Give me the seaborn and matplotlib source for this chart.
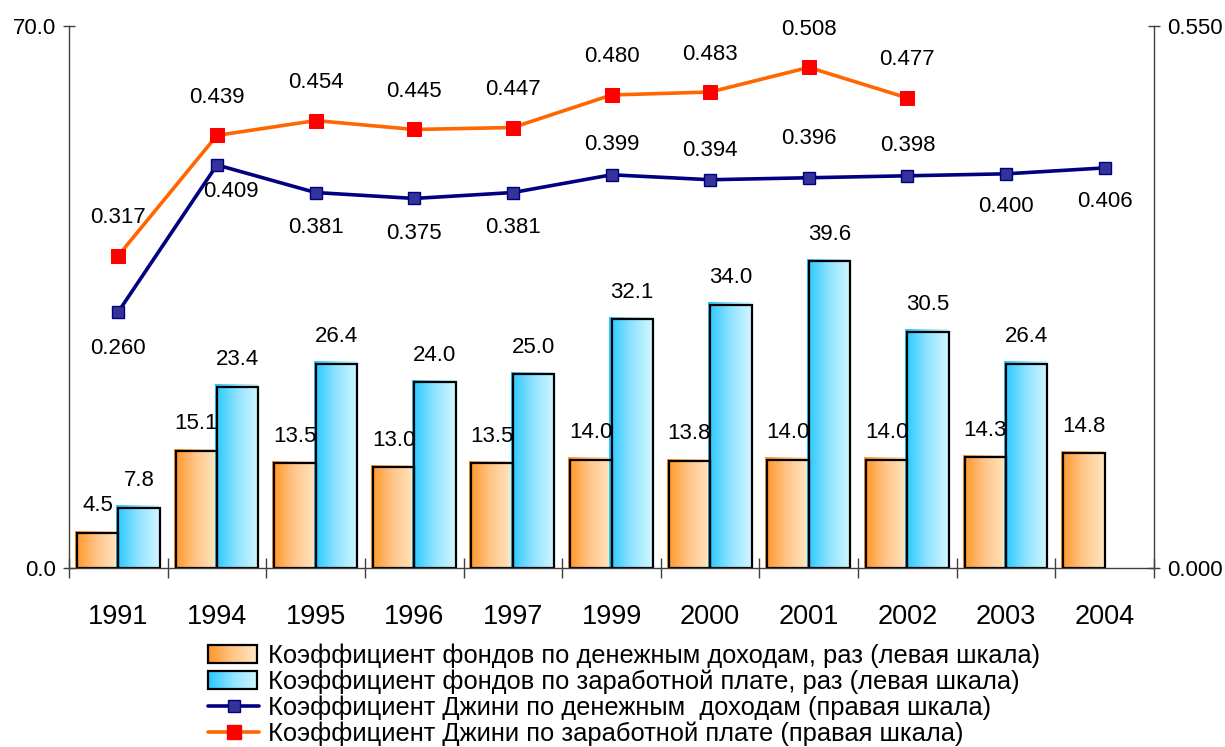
import numpy as np
import pandas as pd
import seaborn as sns
import matplotlib.pyplot as plt
from matplotlib.colors import LinearSegmentedColormap
from matplotlib.legend_handler import HandlerBase
from matplotlib.lines import Line2D
from matplotlib.patches import Rectangle
from matplotlib.ticker import StrMethodFormatter, FixedLocator

# data
years = ['1991', '1994', '1995', '1996', '1997', '1999', '2000', '2001', '2002', '2003', '2004']
funds_income = [4.5, 15.1, 13.5, 13.0, 13.5, 14.0, 13.8, 14.0, 14.0, 14.3, 14.8]
funds_wage = [7.8, 23.4, 26.4, 24.0, 25.0, 32.1, 34.0, 39.6, 30.5, 26.4, np.nan]
gini_income = [0.260, 0.409, 0.381, 0.375, 0.381, 0.399, 0.394, 0.396, 0.398, 0.400, 0.406]
gini_wage = [0.317, 0.439, 0.454, 0.445, 0.447, 0.480, 0.483, 0.508, 0.477, np.nan, np.nan]

lbl_funds_income = 'Коэффициент фондов по денежным доходам, раз (левая шкала)'
lbl_funds_wage = 'Коэффициент фондов по заработной плате, раз (левая шкала)'
lbl_gini_income = 'Коэффициент Джини по денежным  доходам (правая шкала)'
lbl_gini_wage = 'Коэффициент Джини по заработной плате (правая шкала)'

# label offsets (pixels) for the Gini labels, as placed in the original
gini_income_dy = [37, 27, 35, 35, 35, -30, -29, -39, -30, 33, 34]
gini_income_dx = [0, 14, 0, 0, 0, 0, 0, 0, 0, 0, 0]
gini_wage_dy = -38

sns.set_theme(style='white')
plt.rcParams['font.family'] = ['Liberation Sans', 'DejaVu Sans']
plt.rcParams['text.color'] = 'black'
plt.rcParams['xtick.color'] = 'black'
plt.rcParams['ytick.color'] = 'black'

orange_cmap = LinearSegmentedColormap.from_list('org', ['#ff9422', '#ffc489', '#ffe6c0'])
cyan_cmap = LinearSegmentedColormap.from_list('cyn', ['#22c8ff', '#8ee2ff', '#cff6ff'])

n = len(years)
bars = pd.DataFrame({
    'year': years * 2,
    'value': funds_income + funds_wage,
    'series': [lbl_funds_income] * n + [lbl_funds_wage] * n,
})

fig = plt.figure(figsize=(12.25, 7.47), dpi=100)
ax = fig.add_axes([69 / 1225, 1 - 568 / 747, (1154 - 69) / 1225, (568 - 26) / 747])

sns.barplot(data=bars, x='year', y='value', hue='series', palette=['#ffb060', '#7fdcff'],
            width=0.84, edgecolor='black', linewidth=1.6, ax=ax, legend=False, zorder=2)

# gradient fill of the bars, shifted slightly up-left like the original
grad = np.linspace(0, 1, 256).reshape(1, -1)
dx = 2 / 98.6
dy = 2 / 7.743
for cont, cmap, vals in zip(ax.containers, [orange_cmap, cyan_cmap], [funds_income, funds_wage]):
    for bar, v in zip(cont, vals):
        h = bar.get_height()
        if not np.isfinite(h) or h == 0:
            continue
        x0, w = bar.get_x(), bar.get_width()
        ax.imshow(grad, cmap=cmap, extent=(x0 - dx, x0 + w - dx / 2, 0, h + dy), aspect='auto',
                  interpolation='bilinear', zorder=1.9)
        bar.set_facecolor('none')
        ax.annotate(f'{v:.1f}', (x0 + w / 2, h), xytext=(0, 12), textcoords='offset points',
                    ha='center', va='bottom', fontsize=16)

ax.set_xlim(-0.5, n - 0.5)
ax.set_ylim(0, 70)
ax.set_xlabel('')
ax.set_ylabel('')
ax.set_yticks([0, 70])
ax.yaxis.set_major_formatter(StrMethodFormatter('{x:.1f}'))
ax.tick_params(axis='y', direction='inout', length=9, width=1, color='#404040',
               labelsize=16, pad=5, left=True)
ax.set_xticks(range(n))
ax.set_xticklabels(years)
ax.xaxis.set_minor_locator(FixedLocator(np.arange(n + 1) - 0.5))
ax.tick_params(axis='x', which='major', length=0, labelsize=19.5, pad=26)
ax.tick_params(axis='x', which='minor', direction='inout', length=15, width=1,
               color='#404040', bottom=True)
for s in ['top', 'right']:
    ax.spines[s].set_visible(False)
for s in ['left', 'bottom']:
    ax.spines[s].set_color('#404040')
    ax.spines[s].set_linewidth(1)

# Gini lines on the right scale
ax2 = ax.twinx()
xpos = np.arange(n)
sns.lineplot(x=xpos, y=np.array(gini_income), ax=ax2, color='#000080', linewidth=2.6,
             marker='s', markersize=8, markerfacecolor='#333399', markeredgecolor='#000080',
             markeredgewidth=1, legend=False)
sns.lineplot(x=xpos, y=np.array(gini_wage), ax=ax2, color='#ff6600', linewidth=2.6,
             marker='s', markersize=10, markerfacecolor='#ff0000', markeredgecolor='#ff0000',
             legend=False)
for i, v in enumerate(gini_income):
    ax2.annotate(f'{v:.3f}', (xpos[i], v), xytext=(gini_income_dx[i] * 0.72, -gini_income_dy[i] * 0.72),
                 textcoords='offset points', ha='center', va='center', fontsize=16)
for i, v in enumerate(gini_wage):
    if np.isnan(v):
        continue
    ax2.annotate(f'{v:.3f}', (xpos[i], v), xytext=(0, -gini_wage_dy * 0.72),
                 textcoords='offset points', ha='center', va='center', fontsize=16)

ax2.set_xlim(-0.5, n - 0.5)
ax2.set_ylim(0, 0.55)
ax2.set_yticks([0, 0.55])
ax2.yaxis.set_major_formatter(StrMethodFormatter('{x:.3f}'))
ax2.tick_params(axis='y', direction='inout', length=9, width=1, color='#404040',
                labelsize=16, pad=5, right=True)
ax2.set_ylabel('')
for s in ['top', 'left', 'bottom']:
    ax2.spines[s].set_visible(False)
ax2.spines['right'].set_color('#404040')
ax2.spines['right'].set_linewidth(1)
ax2.grid(False)
ax.grid(False)


class GradientHandler(HandlerBase):
    def __init__(self, cmap):
        super().__init__()
        self.cmap = cmap

    def create_artists(self, legend, orig_handle, xdescent, ydescent, width, height, fontsize, trans):
        arts = []
        steps = 30
        w = width * 0.95
        for i in range(steps):
            arts.append(Rectangle((-xdescent + w * i / steps, -ydescent), w / steps * 1.1, height,
                                  facecolor=self.cmap((i + 0.5) / steps), edgecolor='none', transform=trans))
        arts.append(Rectangle((-xdescent, -ydescent), w, height, facecolor='none',
                              edgecolor='black', linewidth=1.6, transform=trans))
        return arts


h_inc = Rectangle((0, 0), 1, 1)
h_wage = Rectangle((0, 0), 1, 1)
h_gi = Line2D([], [], color='#000080', linewidth=2.6, marker='s', markersize=8,
              markerfacecolor='#333399', markeredgecolor='#000080')
h_gw = Line2D([], [], color='#ff6600', linewidth=2.6, marker='s', markersize=10,
              markerfacecolor='#ff0000', markeredgecolor='#ff0000')
fig.legend([h_inc, h_wage, h_gi, h_gw],
           [lbl_funds_income, lbl_funds_wage, lbl_gini_income, lbl_gini_wage],
           handler_map={h_inc: GradientHandler(orange_cmap), h_wage: GradientHandler(cyan_cmap)},
           loc='upper left', bbox_to_anchor=(208 / 1225, 1 - 643 / 747), frameon=False,
           fontsize=18.4, borderpad=0, borderaxespad=0, handlelength=2.0, handletextpad=0.35,
           labelspacing=0.06)

fig.savefig('out.png', dpi=100)
